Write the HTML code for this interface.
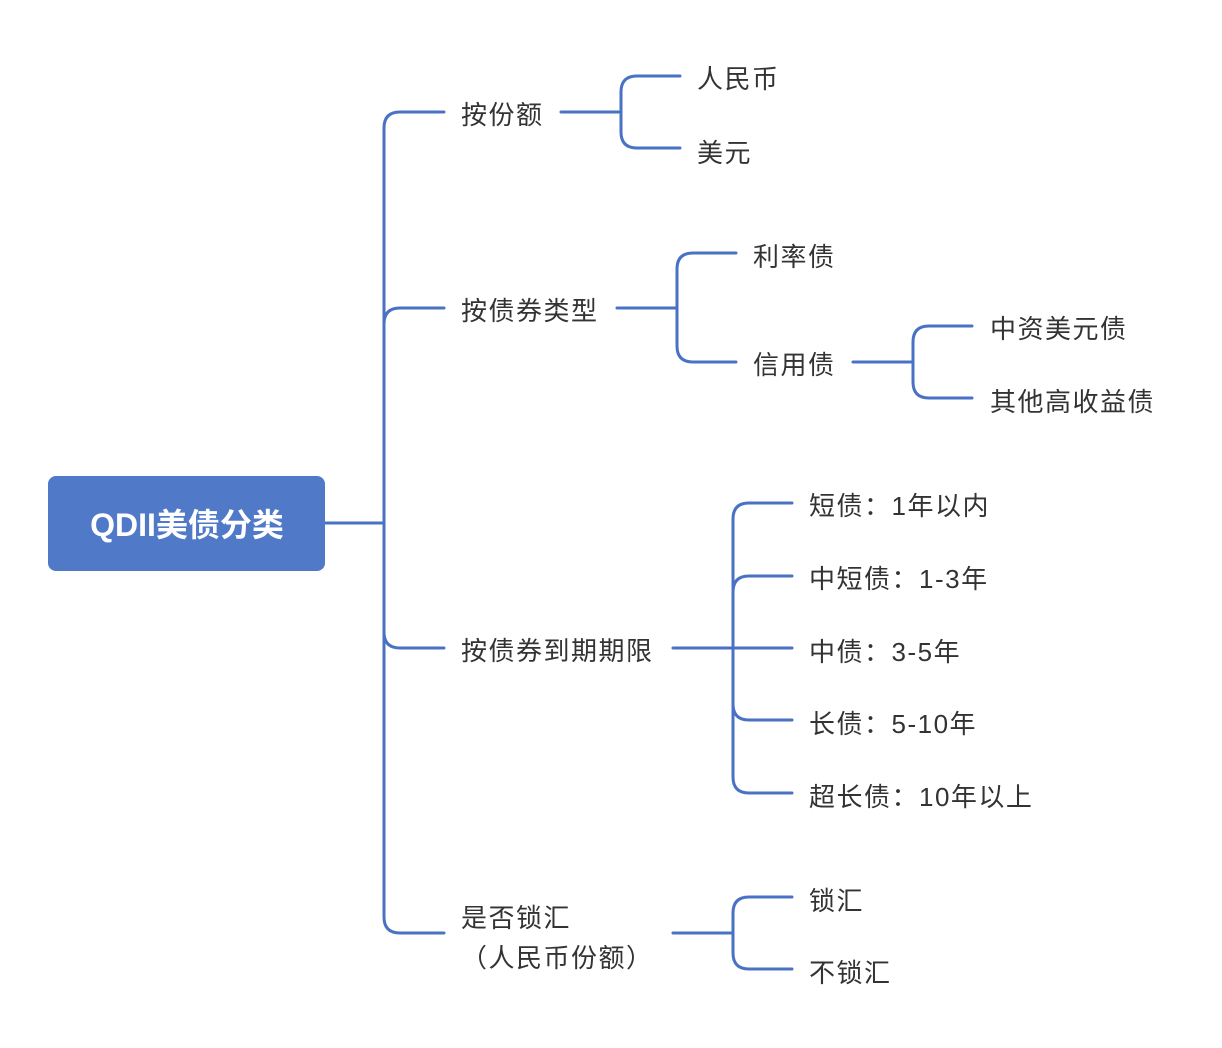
<!DOCTYPE html>
<html><head><meta charset="utf-8"><style>
html,body{margin:0;padding:0;background:#fff;}
svg{display:block;}
text{font-family:"Liberation Sans","Noto Sans CJK SC",sans-serif;font-size:26px;letter-spacing:1.5px;fill:#333;dominant-baseline:central;}
</style></head><body>
<svg width="1222" height="1048" viewBox="0 0 1222 1048" xmlns="http://www.w3.org/2000/svg">
<g fill="none" stroke="#4a72c4" stroke-width="3" stroke-linecap="round">
<path d="M325 523 H384"/>
<path d="M444 112 H400 Q384 112 384 128 V917 Q384 933 400 933 H444"/>
<path d="M384 324 Q384 308 400 308 H444"/>
<path d="M384 632 Q384 648 400 648 H444"/>
<path d="M561 112 H621"/>
<path d="M680 76 H637 Q621 76 621 92 V132 Q621 148 637 148 H680"/>
<path d="M617 308 H677"/>
<path d="M736 253 H693 Q677 253 677 269 V346 Q677 362 693 362 H736"/>
<path d="M853 362 H913"/>
<path d="M972 326 H929 Q913 326 913 342 V382 Q913 398 929 398 H972"/>
<path d="M673 648 H792"/>
<path d="M792 503 H749 Q733 503 733 519 V777 Q733 793 749 793 H792"/>
<path d="M733 592 Q733 576 749 576 H792"/>
<path d="M733 704 Q733 720 749 720 H792"/>
<path d="M673 933 H733"/>
<path d="M792 897 H749 Q733 897 733 913 V953 Q733 969 749 969 H792"/>
</g>
<rect x="48" y="476" width="277" height="95" rx="8" fill="#5079c8"/>
<text x="187" y="525" text-anchor="middle" style="fill:#fff;font-weight:bold;font-size:32px;letter-spacing:0">QDII美债分类</text>
<text x="461" y="115">按份额</text>
<text x="461" y="311">按债券类型</text>
<text x="461" y="651">按债券到期期限</text>
<text x="461" y="918">是否锁汇</text>
<text x="461" y="958">（人民币份额）</text>
<text x="697" y="79">人民币</text>
<text x="697" y="153">美元</text>
<text x="753" y="257">利率债</text>
<text x="753" y="365">信用债</text>
<text x="990" y="329">中资美元债</text>
<text x="990" y="402">其他高收益债</text>
<text x="809" y="506">短债：1年以内</text>
<text x="809" y="579">中短债：1-3年</text>
<text x="809" y="652">中债：3-5年</text>
<text x="809" y="724">长债：5-10年</text>
<text x="809" y="797">超长债：10年以上</text>
<text x="809" y="901">锁汇</text>
<text x="809" y="973">不锁汇</text>
</svg>
</body></html>
